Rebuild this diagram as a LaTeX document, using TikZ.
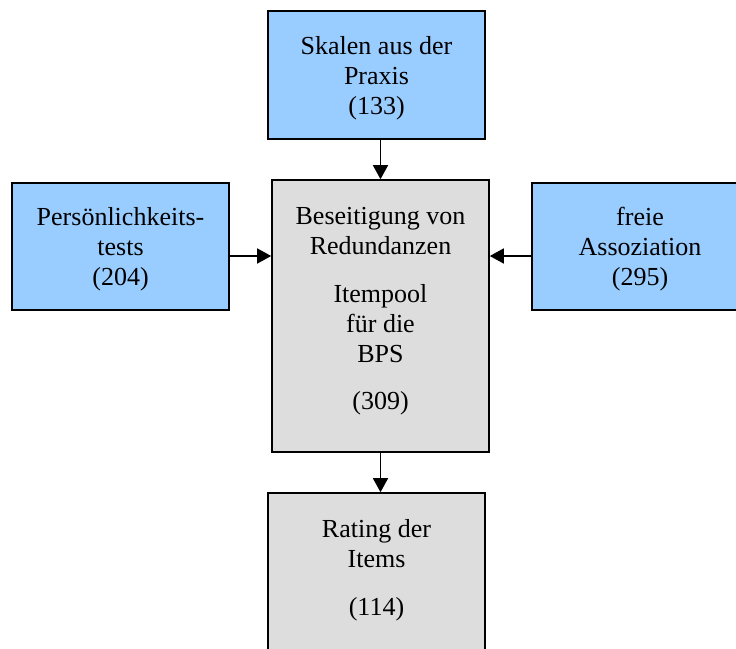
\documentclass[tikz,border=0pt]{standalone}
\usepackage{fontspec}
\setmainfont{Liberation Serif}
\usetikzlibrary{arrows.meta}
\definecolor{boxblue}{HTML}{99CCFF}
\definecolor{boxgray}{HTML}{DDDDDD}
\begin{document}
\begin{tikzpicture}[x=1pt,y=-1pt,
  box/.style={draw=black, line width=1.6pt, rectangle, inner sep=0pt},
  bluebox/.style={box, fill=boxblue},
  graybox/.style={box, fill=boxgray},
  txt/.style={align=center, anchor=base, inner sep=0pt,
    font=\fontsize{26}{30}\selectfont},
  arr/.style={line width=1.5pt, -{Triangle[length=14pt,width=15pt]}}]
\useasboundingbox (0,0) rectangle (736,648);
\clip (0,0) rectangle (736,648);
% boxes
\node[bluebox, minimum width=217pt, minimum height=128pt] (top) at (376.5,75) {};
\node[bluebox, minimum width=217pt, minimum height=127pt] (left) at (120.5,246.5) {};
\node[bluebox, minimum width=216pt, minimum height=127pt] (right) at (640,246.5) {};
\node[graybox, minimum width=217pt, minimum height=272pt] (mid) at (380.5,316) {};
\node[graybox, minimum width=217pt, minimum height=180pt] (bottom) at (376.5,583) {};
% labels (anchored at the baseline of the last line)
\node[txt] (top-t) at (376.5,114) {Skalen aus der\\Praxis\\(133)};
\node[txt] (left-t) at (120.5,285) {Persönlichkeits-\\tests\\(204)};
\node[txt] (right-t) at (640,285) {freie\\Assoziation\\(295)};
\node[txt] (mid-t) at (380.5,409) {Beseitigung von\\Redundanzen\\[18pt]Itempool\\für die\\BPS\\[17pt](309)};
\node[txt] (bottom-t) at (376.5,615) {Rating der\\Items\\[18pt](114)};
% connectors
\draw[arr] (top.south -| mid.north) -- (mid.north);
\draw[arr] ([yshift=-9.5pt]left.east) -- ([yshift=-9.5pt]left.east -| mid.west);
\draw[arr] ([yshift=-9.5pt]right.west) -- ([yshift=-9.5pt]right.west -| mid.east);
\draw[arr] (mid.south) -- (mid.south |- bottom.north);
\end{tikzpicture}
\end{document}
